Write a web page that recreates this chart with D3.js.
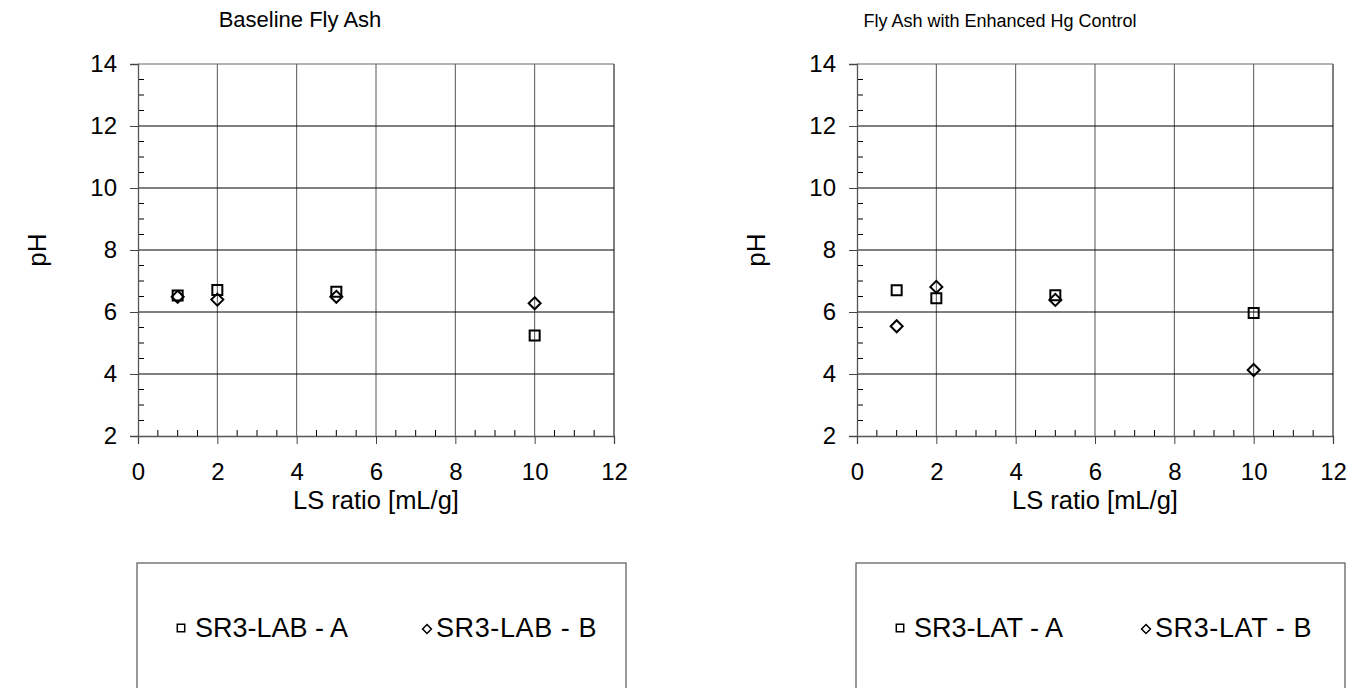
<!DOCTYPE html>
<html>
<head>
<meta charset="utf-8">
<script src="https://cdn.jsdelivr.net/npm/d3@7"></script>
<style>
  body { margin: 0; background: #fff; }
  svg { font-family: "Liberation Sans", Arial, sans-serif; }
</style>
</head>
<body>
<div id="chart"></div>
<script>
// LS ratios sampled
const lsRatio = [1, 2, 5, 10]

// baseline fly ash
const labA = [6.53, 6.71, 6.65, 5.24]
const labB = [6.49, 6.40, 6.49, 6.28]

// fly ash with enhanced Hg control
const latA = [6.70, 6.44, 6.54, 5.97]
const latB = [5.54, 6.81, 6.39, 4.13]

const xTicks = [0, 2, 4, 6, 8, 10, 12]
const yTicks = [2, 4, 6, 8, 10, 12, 14]

const panels = [
    { title: "Baseline Fly Ash", titleX: 300, titleSize: 22, left: 138, names: ["SR3-LAB - A", "SR3-LAB - B"], a: labA, b: labB },
    { title: "Fly Ash with Enhanced Hg Control", titleX: 1000, titleSize: 18, left: 857, names: ["SR3-LAT - A", "SR3-LAT - B"], a: latA, b: latB }
]

const W = 1367, H = 688
const plotTop = 64, plotBottom = 436, plotW = 476

var svg = d3.select("#chart").append("svg")
    .attr("width", W)
    .attr("height", H)

const square = d3.symbol().type(d3.symbolSquare).size(100)
const diamond = d3.symbol().type(d3.symbolDiamond2).size(92)

panels.forEach(p => {
    var x = d3.scaleLinear().domain([0, 12]).range([p.left, p.left + plotW])
    var y = d3.scaleLinear().domain([2, 14]).range([plotBottom, plotTop])
    var g = svg.append("g")

    // gridlines
    g.selectAll(".vgrid").data(xTicks.slice(1))
        .enter().append("line")
        .attr("x1", d => x(d)).attr("x2", d => x(d))
        .attr("y1", plotTop).attr("y2", plotBottom)
        .attr("stroke", d => d == 12 ? "#000" : "#555").attr("stroke-width", 1)
    g.selectAll(".hgrid").data(yTicks.slice(1))
        .enter().append("line")
        .attr("x1", x(0)).attr("x2", x(12))
        .attr("y1", d => y(d)).attr("y2", d => y(d))
        .attr("stroke", d => d == 14 ? "#666" : "#000").attr("stroke-width", 1)

    // minor ticks (inside)
    var minor = d3.range(0.5, 12, 0.5).filter(v => v % 2 != 0)
    g.selectAll(".xminor").data(minor)
        .enter().append("line")
        .attr("x1", d => x(d)).attr("x2", d => x(d))
        .attr("y1", plotBottom).attr("y2", plotBottom - 6)
        .attr("stroke", "#000")
    var yminor = d3.range(2.5, 14, 0.5).filter(v => v % 2 != 0)
    g.selectAll(".yminor").data(yminor)
        .enter().append("line")
        .attr("x1", x(0)).attr("x2", x(0) + 6)
        .attr("y1", d => y(d)).attr("y2", d => y(d))
        .attr("stroke", "#000")

    // axes
    var xAxis = d3.axisBottom(x).tickValues(xTicks).tickSize(8)
    var yAxis = d3.axisLeft(y).tickValues(yTicks).tickSize(8).tickPadding(13)
    var gx = g.append("g").attr("transform", `translate(0,${plotBottom})`).call(xAxis)
    var gy = g.append("g").attr("transform", `translate(${x(0)},0)`).call(yAxis)
    ;[gx, gy].forEach(a => {
        a.select(".domain").attr("stroke", "#555").attr("stroke-width", 1.3)
        a.selectAll(".tick line").attr("stroke", "#444")
        a.selectAll("text").attr("font-size", 24).attr("fill", "#000")
            .attr("font-family", "Liberation Sans, Arial, sans-serif")
    })
    gx.selectAll("text").attr("y", 44).attr("dy", 0)

    // titles
    g.append("text").attr("x", p.titleX).attr("y", 27)
        .attr("text-anchor", "middle").attr("font-size", p.titleSize)
        .text(p.title)
    g.append("text").attr("x", x(6)).attr("y", 509)
        .attr("text-anchor", "middle").attr("font-size", 25.5).text("LS ratio [mL/g]")
    g.append("text")
        .attr("transform", `translate(${p.left - 92},${y(8)}) rotate(-90)`)
        .attr("text-anchor", "middle").attr("font-size", 26).text("pH")

    // points
    g.selectAll(".ptA").data(p.a)
        .enter().append("path")
        .attr("d", square)
        .attr("transform", (d, i) => `translate(${x(lsRatio[i])},${y(d)})`)
        .attr("fill", "none").attr("stroke", "#000").attr("stroke-width", 2)
    g.selectAll(".ptB").data(p.b)
        .enter().append("path")
        .attr("d", diamond)
        .attr("transform", (d, i) => `translate(${x(lsRatio[i])},${y(d)})`)
        .attr("fill", "none").attr("stroke", "#000").attr("stroke-width", 2)

    // legend box
    var lg = g.append("g").attr("transform", `translate(${p.left - 1},563)`)
    lg.append("rect").attr("width", 489).attr("height", 140)
        .attr("fill", "#fff").attr("stroke", "#555").attr("stroke-width", 1.2)
    lg.append("path").attr("d", d3.symbol().type(d3.symbolSquare).size(55))
        .attr("transform", "translate(44,65)")
        .attr("fill", "none").attr("stroke", "#000").attr("stroke-width", 1.5)
    lg.append("text").attr("x", 58).attr("y", 74).attr("font-size", 27).text(p.names[0])
    lg.append("path").attr("d", d3.symbol().type(d3.symbolDiamond2).size(50))
        .attr("transform", "translate(290,66)")
        .attr("fill", "none").attr("stroke", "#000").attr("stroke-width", 1.5)
    lg.append("text").attr("x", 299).attr("y", 74).attr("font-size", 27)
        .attr("letter-spacing", 0.6).text(p.names[1])
})
</script>
</body>
</html>
